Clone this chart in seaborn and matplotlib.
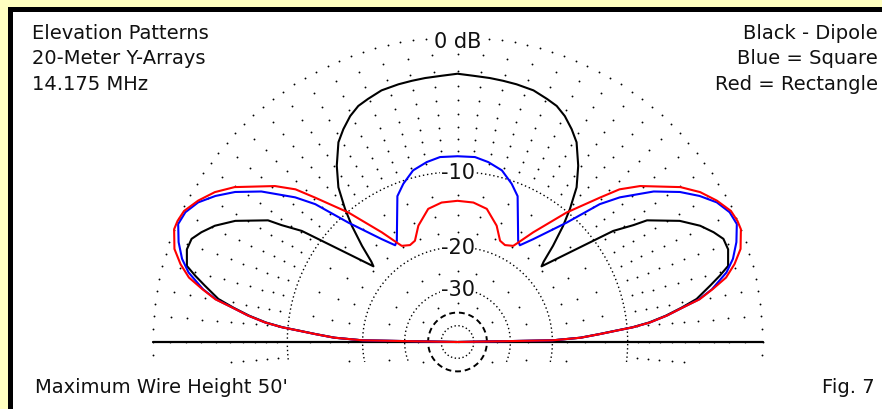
import numpy as np
import pandas as pd
import seaborn as sns
import matplotlib
matplotlib.use("Agg")
import matplotlib.pyplot as plt
from matplotlib.patches import Rectangle

# elevation angle (deg, 0 = right horizon) and relative gain (dB)
dipole_angle = [0, 1, 2, 3.2, 4.1, 4.8, 5.8, 7.2, 8.7, 10.2, 12.6, 14.2, 15.7, 18.9, 21.2, 23.2, 25.6,
                28.6, 32.7, 33.6, 35.5, 36.3, 38.9, 42.0, 43.0, 45.2, 47.7, 49.8, 52.4, 55.6, 59.2, 61.8,
                64.6, 67.2, 69.8, 73.2, 77.1, 80.1, 83.0, 86.6, 90,
                93.4, 97.0, 99.9, 102.9, 106.8, 110.2, 112.8, 115.4, 118.2, 120.8, 124.4, 127.6, 130.2,
                132.3, 134.8, 137.0, 138.0, 141.1, 143.7, 144.5, 146.4, 147.3, 151.4, 154.4, 156.8, 158.8,
                161.1, 164.3, 165.8, 167.4, 169.8, 171.3, 172.8, 174.2, 175.2, 175.9, 176.8, 178, 179, 180]
dipole_db = [-99, -20.0, -15.6, -13.1, -11.2, -9.5, -7.9, -6.4, -5.1, -3.9, -2.8, -2.05, -1.4, -1.1, -1.15,
             -1.55, -2.15, -3.2, -5.2, -6.3, -8.0, -9.4, -13.3, -17.0, -16.3, -13.9, -11.4, -9.6, -7.65,
             -6.1, -4.65, -4.0, -3.4, -3.0, -2.8, -2.55, -2.45, -2.4, -2.35, -2.3, -2.2,
             -2.3, -2.35, -2.4, -2.45, -2.55, -2.8, -3.0, -3.4, -4.0, -4.65, -6.1, -7.65, -9.6, -11.4,
             -13.9, -16.3, -17.0, -13.3, -9.4, -8.0, -6.3, -5.2, -3.2, -2.15, -1.55, -1.15, -1.1, -1.4,
             -2.05, -2.8, -3.9, -5.1, -6.4, -7.9, -9.5, -11.2, -13.1, -15.6, -20.0, -99]

square_angle = [0, 1, 2, 3.2, 4.1, 4.8, 5.8, 7.2, 8.7, 10.0, 11.7, 14.5, 16.8, 19.7, 22.9, 25.5, 28.3,
                31.1, 34.0, 37.5, 41.7, 44.1, 47.6, 53.6, 57.2, 59.0, 67.6, 71.1, 75.5, 80.3, 84.6, 90,
                95.4, 99.7, 104.5, 108.9, 112.4, 121.0, 122.8, 126.4, 132.4, 135.9, 138.3, 142.5, 146.0,
                148.9, 151.7, 154.5, 157.1, 160.3, 163.2, 165.5, 168.3, 170.0, 171.3, 172.8, 174.2, 175.2,
                175.9, 176.8, 178, 179, 180]
square_db = [-99, -20.0, -15.5, -13.0, -11.1, -9.4, -7.8, -6.3, -5.0, -3.75, -2.75, -1.6, -1.0, -0.5, -0.1,
             -0.2, -0.6, -1.3, -2.2, -3.6, -5.8, -7.4, -10.9, -14.9, -16.7, -16.3, -11.3, -10.3, -9.3,
             -8.8, -8.5, -8.5,
             -8.5, -8.8, -9.3, -10.3, -11.3, -16.3, -16.7, -14.9, -10.9, -7.4, -5.8, -3.6, -2.2, -1.3,
             -0.6, -0.2, -0.1, -0.5, -1.0, -1.6, -2.75, -3.75, -5.0, -6.3, -7.8, -9.4, -11.1, -13.0,
             -15.5, -20.0, -99]

rect_angle = [0, 1, 2, 3.2, 4.1, 4.8, 5.8, 7.2, 8.7, 10.0, 11.7, 13.5, 15.7, 18.2, 21.7, 23.4, 25.6, 28.6,
              31.7, 34.8, 40.5, 43.3, 45.4, 49.9, 55.4, 58.6, 59.9, 63.9, 67.2, 71.4, 77.6, 83.5, 90,
              96.5, 102.4, 108.6, 112.8, 116.1, 120.1, 121.4, 124.6, 130.1, 134.6, 136.7, 139.5, 145.2,
              148.3, 151.4, 154.4, 156.6, 158.3, 161.8, 164.3, 166.5, 168.3, 170.0, 171.3, 172.8, 174.2,
              175.2, 175.9, 176.8, 178, 179, 180]
rect_db = [-99, -20.0, -15.5, -13.0, -11.1, -9.4, -7.8, -6.3, -5.0, -3.7, -2.7, -1.7, -1.0, -0.4, 0.0, 0.0,
           -0.1, -0.55, -1.15, -2.0, -4.1, -5.4, -7.0, -10.1, -14.2, -16.5, -17.3, -17.8, -17.5, -15.6,
           -13.8, -13.3, -13.2,
           -13.3, -13.8, -15.6, -17.5, -17.8, -17.3, -16.5, -14.2, -10.1, -7.0, -5.4, -4.1, -2.0, -1.15,
           -0.55, -0.1, 0.0, 0.0, -0.4, -1.0, -1.7, -2.7, -3.7, -5.0, -6.3, -7.8, -9.4, -11.1, -13.0,
           -15.5, -20.0, -99]

series_names = ["Dipole", "Square", "Rectangle"]
series_colors = ["black", "#0000FF", "#FF0000"]
ring_labels = [(-0.25, "0 dB"), (-10, "-10"), (-20, "-20"), (-30, "-30")]

W, H = 882, 410
CX, CY, R = 457.5, 343, 305
BELOW = 20  # pixels of grid shown under the ground line

sns.set_style("white")
plt.rcParams["font.family"] = ["DejaVu Sans"]

K = -np.log(0.89) / 2.0  # ARRL log-periodic scale: each 2 dB shrinks radius to 0.89


def fwd(db):
    return np.exp(np.asarray(db, dtype=float) * K)


def inv(r):
    return np.log(np.clip(np.asarray(r, dtype=float), 1e-12, None)) / K


def below_limit(db):
    # angle (deg) under the horizon that keeps a ring within BELOW pixels of the ground line
    rp = fwd(db) * R
    return np.degrees(np.arcsin(min(1.0, BELOW / rp)))


fig = plt.figure(figsize=(W / 100, H / 100), dpi=100, facecolor="#FFFFC0")
fig.add_artist(Rectangle((8 / W, 0), 1, 1 - 8 / H, transform=fig.transFigure,
                         fc="black", ec="none", zorder=-3))
fig.add_artist(Rectangle((13 / W, 0), 1, 1 - 13 / H, transform=fig.transFigure,
                         fc="white", ec="none", zorder=-2))

ax = fig.add_axes([(CX - R) / W, (H - CY - R) / H, 2 * R / W, 2 * R / H], projection="polar")
ax.set_rscale("function", functions=(fwd, inv))
ax.set_facecolor("none")

# grid: sparse dot rings
dot_rings = [(0, 2.4)] + [(-d, 5) for d in range(1, 10)] + \
            [(-12.5, 10), (-15, 10), (-17.5, 10), (-25, 15), (-35, 30)]
for db, step in dot_rings:
    a = np.arange(-3 * step, 180 + 3 * step + 0.1, step)
    lim = below_limit(db)
    a = a[(a >= -lim - 0.01) & (a <= 180 + lim + 0.01)]
    a = np.radians(a)
    ax.scatter(a, np.full(a.size, db), s=1.8, color="black", linewidths=0, clip_on=False, zorder=1)

# grid: dense dotted rings
for db in (-10, -20, -30):
    lim = below_limit(db)
    t = np.radians(np.linspace(-lim, 180 + lim, 600))
    ax.plot(t, np.full(t.size, db), color="black", lw=1.0, ls=(0, (1, 2)), clip_on=False, zorder=1)
tf = np.linspace(0, 2 * np.pi, 300)
ax.plot(tf, np.full(tf.size, -40), color="black", lw=1.4, ls=(0, (3, 2)), clip_on=False, zorder=1)
ax.plot(tf, np.full(tf.size, -50), color="black", lw=1.0, ls=(0, (1, 1.8)), clip_on=False, zorder=1)

# ground line
ax.plot([np.pi, np.pi], [0, -120], color="black", lw=1.6, clip_on=False, zorder=2)
ax.plot([0, 0], [-120, 0], color="black", lw=1.6, clip_on=False, zorder=2)

frames = []
for name, ang, db in [("Dipole", dipole_angle, dipole_db),
                      ("Square", square_angle, square_db),
                      ("Rectangle", rect_angle, rect_db)]:
    frames.append(pd.DataFrame({"theta": np.radians(ang), "gain": db, "antenna": name}))
df = pd.concat(frames, ignore_index=True)

sns.lineplot(data=df, x="theta", y="gain", hue="antenna", hue_order=series_names,
             palette=series_colors, sort=False, estimator=None, lw=1.5, legend=False,
             ax=ax, clip_on=False, zorder=3)

for db, lab in ring_labels:
    ax.text(np.pi / 2, db, lab, ha="center", va="center", fontsize=15, color="#111111", zorder=4,
            bbox=dict(fc="white", ec="none", pad=0.6))

ax.set_rlim(-120, 0)
ax.set_xticks([])
ax.set_yticks([])
ax.grid(False)
ax.spines["polar"].set_visible(False)
ax.set_xlabel("")
ax.set_ylabel("")

txt = dict(fontsize=14, color="#111111", va="baseline")
fig.text(32 / W, 1 - 39 / H, "Elevation Patterns", ha="left", **txt)
fig.text(32 / W, 1 - 64.5 / H, "20-Meter Y-Arrays", ha="left", **txt)
fig.text(32 / W, 1 - 90 / H, "14.175 MHz", ha="left", **txt)
fig.text(878 / W, 1 - 39 / H, "Black - Dipole", ha="right", **txt)
fig.text(878 / W, 1 - 64.5 / H, "Blue = Square", ha="right", **txt)
fig.text(878 / W, 1 - 90 / H, "Red = Rectangle", ha="right", **txt)
fig.text(35 / W, 1 - 393 / H, "Maximum Wire Height 50'", ha="left", **txt)
fig.text(875 / W, 1 - 393 / H, "Fig. 7", ha="right", **txt)

fig.savefig("out.png", dpi=100, facecolor=fig.get_facecolor())
